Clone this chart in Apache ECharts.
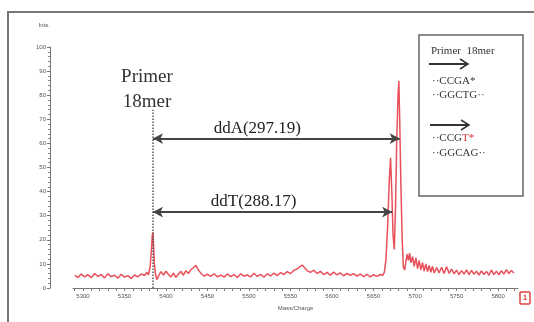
<!DOCTYPE html>
<html>
<head>
<meta charset="utf-8">
<script src="https://cdn.jsdelivr.net/npm/echarts@6/dist/echarts.min.js"></script>
<style>
  html, body { margin: 0; padding: 0; background: #fff; }
  #chart { width: 534px; height: 322px; }
</style>
</head>
<body>
<div id="chart"></div>
<script>
// tick labels
const massTicks = [5300, 5350, 5400, 5450, 5500, 5550, 5600, 5650, 5700, 5750, 5800];
const intensityTicks = [0, 10, 20, 30, 40, 50, 60, 70, 80, 90, 100];

// primer peak and the two extension shifts
const primerMass = 5384.3;
const primerLineTop = 74;
const shiftNames = ['ddA', 'ddT'];
const shiftValues = [297.19, 288.17];
const shiftLevels = [62, 31.5];

// spectrum trace [mass, intensity]
const trace = [
  [5290, 5.2], [5294, 4.4], [5298, 5.8], [5302, 4.6], [5306, 5.5], [5310, 4.3], [5314, 6.0],
  [5318, 4.8], [5322, 5.6], [5326, 4.2], [5330, 5.9], [5334, 4.7], [5338, 5.3], [5342, 4.1],
  [5346, 5.7], [5350, 4.5], [5354, 5.1], [5358, 4.0], [5362, 5.4], [5366, 4.6], [5370, 5.8],
  [5374, 5.2], [5377, 6.5], [5379, 5.5], [5381, 9], [5382.5, 16], [5383.5, 22], [5384.3, 23],
  [5385, 18], [5386, 10], [5387.5, 5.5], [5389, 3.5], [5391, 5.0], [5394, 6.8], [5397, 5.4],
  [5400, 7.0], [5403, 5.6], [5406, 4.6], [5409, 6.2], [5412, 4.4], [5415, 5.8], [5418, 6.9],
  [5421, 5.3], [5424, 7.2], [5427, 6.0], [5430, 7.6], [5433, 8.4], [5436, 9.4], [5438, 8.6],
  [5440, 7.0], [5443, 5.8], [5446, 4.9], [5450, 5.7], [5454, 4.8], [5458, 5.9], [5462, 4.6],
  [5466, 5.4], [5470, 4.5], [5474, 5.8], [5478, 4.7], [5482, 5.6], [5486, 4.4], [5490, 5.9],
  [5494, 4.9], [5498, 5.4], [5502, 4.6], [5506, 6.1], [5510, 4.8], [5514, 5.7], [5518, 4.5],
  [5522, 5.9], [5526, 5.0], [5530, 6.2], [5534, 5.1], [5538, 6.4], [5542, 5.6], [5546, 6.8],
  [5550, 6.0], [5554, 7.3], [5558, 7.9], [5561, 8.8], [5564, 9.5], [5567, 8.4], [5570, 7.2],
  [5574, 6.5], [5578, 7.4], [5582, 6.0], [5586, 6.9], [5590, 5.6], [5594, 6.5], [5598, 5.3],
  [5602, 6.6], [5606, 5.4], [5610, 6.3], [5614, 5.0], [5618, 6.1], [5622, 5.2], [5626, 6.0],
  [5630, 4.9], [5634, 5.8], [5638, 4.7], [5642, 5.7], [5646, 4.6], [5650, 5.5], [5654, 4.8],
  [5658, 5.6], [5661, 5.2], [5663, 6.5], [5665, 12], [5667, 26], [5669, 45], [5670.5, 54],
  [5672, 40], [5673.5, 22], [5675, 16], [5676.5, 34], [5678, 62], [5679.5, 80], [5680.5, 86],
  [5681.5, 70], [5683, 42], [5684.5, 20], [5686, 8.5], [5687.5, 7.5], [5689, 11], [5690.5, 14],
  [5692, 11.5], [5693.5, 14.5], [5695, 10.5], [5697, 13], [5699, 9], [5701, 12.5], [5703, 8],
  [5705, 11.5], [5707, 7.5], [5709, 10.5], [5711, 7], [5713, 10], [5715, 6.8], [5717, 9.4],
  [5719, 6.5], [5721, 9], [5723, 6.2], [5726, 8.5], [5729, 6.3], [5732, 8.6], [5735, 6.0],
  [5738, 8.8], [5741, 6.1], [5744, 7.8], [5747, 5.9], [5750, 7.4], [5753, 5.6], [5756, 7.2],
  [5759, 5.8], [5762, 7.5], [5765, 5.5], [5768, 7.3], [5771, 5.7], [5774, 7.0], [5777, 5.4],
  [5780, 7.1], [5783, 5.6], [5786, 6.9], [5789, 5.3], [5792, 7.4], [5795, 5.6], [5798, 7.0],
  [5801, 5.5], [5804, 7.2], [5807, 5.8], [5810, 7.6], [5813, 6.0], [5816, 7.3], [5819, 6.2]
];

// small ticks every 10 along the mass axis
const massMinorTicks = [];
for (let m = 5290; m <= 5820; m += 10) massMinorTicks.push(m);

const serif = 'Liberation Serif';

let chart = echarts.init(document.getElementById('chart'));

// arrows primer -> ddA / ddT
let arrowLines = shiftNames.map((name, i) => [
  {
    coord: [primerMass, shiftLevels[i]],
    symbol: 'arrow',
    label: {
      show: true,
      position: 'middle',
      formatter: name + '(' + shiftValues[i].toFixed(2) + ')',
      fontFamily: serif,
      fontSize: 17,
      color: '#222',
      distance: 2,
      padding: [0, 38, 0, 0]
    }
  },
  { coord: [primerMass + shiftValues[i], shiftLevels[i]], symbol: 'arrow' }
]);

chart.setOption({
  animation: false,
  grid: { left: 73, right: 16, top: 47, bottom: 34 },
  xAxis: {
    type: 'value',
    min: 5288,
    max: 5824,
    name: 'Mass/Charge',
    nameLocation: 'middle',
    nameGap: 17,
    nameTextStyle: { fontSize: 6, color: '#555' },
    axisLine: { lineStyle: { color: '#777', width: 1 } },
    axisTick: { customValues: massMinorTicks, length: 3, lineStyle: { color: '#777' } },
    axisLabel: { customValues: massTicks, fontSize: 6, color: '#555', margin: 5, formatter: v => String(v) },
    splitLine: { show: false }
  },
  yAxis: {
    type: 'value',
    min: 0,
    max: 100,
    interval: 10,
    offset: 23,
    name: 'Ints.',
    nameGap: 19,
    nameTextStyle: { fontSize: 6, color: '#555', align: 'right' },
    axisLine: { show: true, lineStyle: { color: '#777', width: 1 } },
    axisTick: { show: true, length: 3, lineStyle: { color: '#777' } },
    minorTick: { show: true, splitNumber: 5, length: 2, lineStyle: { color: '#888' } },
    axisLabel: { fontSize: 6, color: '#555', margin: 4 },
    splitLine: { show: false }
  },
  series: [{
    type: 'line',
    data: trace,
    symbol: 'none',
    lineStyle: { color: '#e8505a', width: 1.5 },
    markLine: {
      silent: true,
      symbolSize: [8, 10],
      lineStyle: { color: '#444', width: 2, type: 'solid' },
      data: [
        [
          {
            coord: [primerMass, 0],
            symbol: 'none',
            lineStyle: { type: 'dotted', color: '#555', width: 1.5 },
            label: {
              show: true,
              position: 'end',
              formatter: 'Primer\n18mer',
              fontFamily: serif,
              fontSize: 19,
              lineHeight: 25,
              color: '#333',
              distance: -5,
              padding: [0, 12, 0, 0]
            }
          },
          { coord: [primerMass, primerLineTop], symbol: 'none' }
        ]
      ].concat(arrowLines)
    }
  }],
  graphic: [
    // outer frame
    { type: 'rect', shape: { x: 8, y: 12, width: 540, height: 320 }, style: { fill: 'none', stroke: '#777', lineWidth: 2 } },
    // legend box
    { type: 'rect', shape: { x: 419, y: 35, width: 104, height: 161 }, style: { fill: '#fff', stroke: '#666', lineWidth: 1.5 } },
    { type: 'text', x: 431, y: 46, style: { text: 'Primer  18mer', font: '11px "Liberation Serif"', fill: '#333' } },
    { type: 'line', shape: { x1: 429, y1: 64, x2: 467, y2: 64 }, style: { stroke: '#333', lineWidth: 2 } },
    { type: 'polyline', shape: { points: [[460, 59], [468, 64], [460, 69]] }, style: { stroke: '#333', lineWidth: 1.5, fill: 'none' } },
    { type: 'text', x: 432, y: 76, style: { text: '··CCGA*', font: '11px "Liberation Serif"', fill: '#333' } },
    { type: 'text', x: 432, y: 90, style: { text: '··GGCTG··', font: '11px "Liberation Serif"', fill: '#333' } },
    { type: 'line', shape: { x1: 430, y1: 125, x2: 468, y2: 125 }, style: { stroke: '#333', lineWidth: 2 } },
    { type: 'polyline', shape: { points: [[461, 120], [469, 125], [461, 130]] }, style: { stroke: '#333', lineWidth: 1.5, fill: 'none' } },
    {
      type: 'text', x: 432, y: 133,
      style: {
        text: '{b|··CCG}{r|T*}',
        rich: {
          b: { fontFamily: serif, fontSize: 11, fill: '#333' },
          r: { fontFamily: serif, fontSize: 11, fill: '#e03030' }
        }
      }
    },
    { type: 'text', x: 432, y: 148, style: { text: '··GGCAG··', font: '11px "Liberation Serif"', fill: '#333' } },
    // small red marker in the corner
    { type: 'rect', shape: { x: 520, y: 292, width: 10, height: 12, r: 1 }, style: { fill: '#fff', stroke: '#e04040', lineWidth: 1.5 } },
    { type: 'text', x: 525, y: 298, style: { text: '1', font: 'bold 8px sans-serif', fill: '#e04040', align: 'center', verticalAlign: 'middle' } }
  ]
});
</script>
</body>
</html>
